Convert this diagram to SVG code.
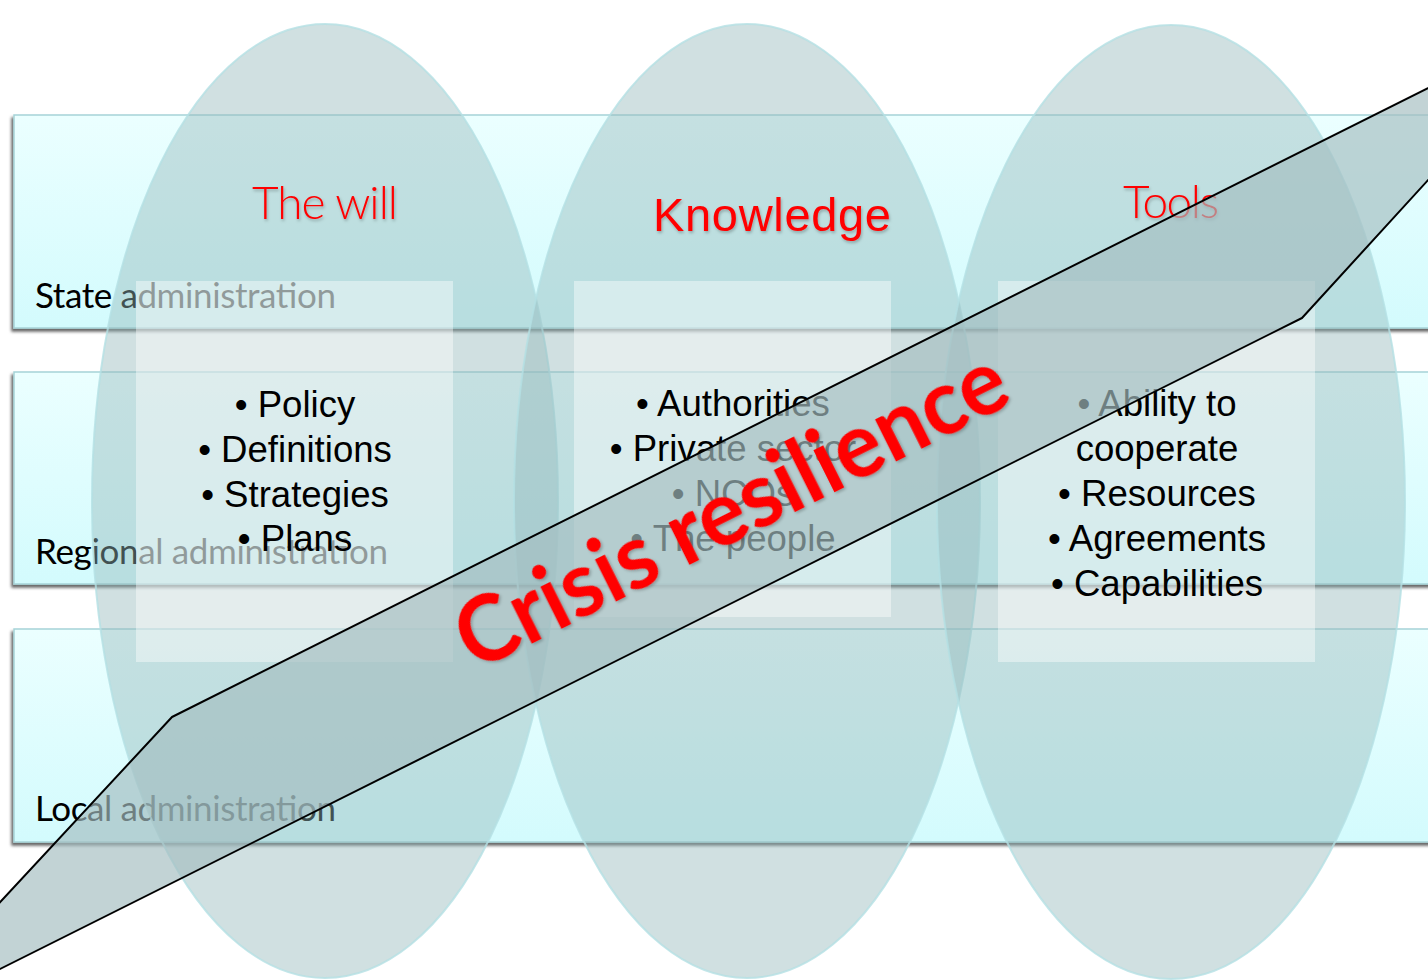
<svg xmlns="http://www.w3.org/2000/svg" width="1428" height="980" viewBox="0 0 1428 980">
<defs>
  <linearGradient id="bandGrad" x1="0" y1="0" x2="0" y2="1">
    <stop offset="0" stop-color="#ebffff"/>
    <stop offset="1" stop-color="#d3fbfd"/>
  </linearGradient>
  <filter id="bandShadow" x="-5%" y="-10%" width="110%" height="125%">
    <feDropShadow dx="-2" dy="3" stdDeviation="1.6" flood-color="#000" flood-opacity="0.6"/>
  </filter>
  <filter id="txtShadow" x="-10%" y="-20%" width="120%" height="150%">
    <feDropShadow dx="1" dy="2" stdDeviation="1.5" flood-color="#000" flood-opacity="0.25"/>
  </filter>
  <style>
    .band { fill: url(#bandGrad); stroke: #a6d3d7; stroke-width: 1.5; filter: url(#bandShadow); }
    .bandLabel { font-family: Lato, "Liberation Sans", sans-serif; font-size: 35px; fill: #000; }
    .ell { fill: rgb(148,184,186); fill-opacity: 0.44; stroke: #b4e0e4; stroke-width: 2; stroke-opacity: 0.8; }
    .box { fill: #ffffff; fill-opacity: 0.42; }
    .title { font-family: Lato, "Liberation Sans", sans-serif; font-weight: 300; font-size: 46px; fill: #ff0000; filter: url(#txtShadow); }
    .titleA { font-family: "Liberation Sans", Arial, sans-serif; font-size: 47px; fill: #ff0000; filter: url(#txtShadow); }
    .bullets { font-family: "Liberation Sans", Arial, sans-serif; font-size: 36.6px; fill: #000; text-anchor: middle; }
    .cband { fill: rgb(164,189,193); fill-opacity: 0.67; stroke: #000; stroke-width: 2; stroke-linejoin: round; }
    .crisis { font-family: Lato, "Open Sans", "Liberation Sans", sans-serif; font-weight: 700; font-size: 92px; fill: #ff0000; filter: url(#txtShadow); }
  </style>
</defs>
<rect x="0" y="0" width="1428" height="980" fill="#ffffff"/>

<g id="band-state">
  <rect class="band" x="14" y="115" width="1430" height="213"/>
  <text class="bandLabel" x="35" y="308" textLength="301">State administration</text>
</g>
<g id="band-regional">
  <rect class="band" x="14" y="372" width="1430" height="212"/>
  <text class="bandLabel" x="35" y="564" textLength="353">Regional administration</text>
</g>
<g id="band-local">
  <rect class="band" x="14" y="629" width="1430" height="213"/>
  <text class="bandLabel" x="35" y="821" textLength="301">Local administration</text>
</g>

<g id="pillar-will">
  <ellipse class="ell" cx="325" cy="501" rx="233" ry="477"/>
</g>
<g id="pillar-knowledge">
  <ellipse class="ell" cx="747" cy="501" rx="233" ry="477"/>
</g>
<g id="pillar-tools">
  <ellipse class="ell" cx="1171" cy="502" rx="234" ry="477"/>
</g>

<g id="box-will">
  <rect class="box" x="136" y="281" width="317" height="381"/>
</g>
<g id="box-knowledge">
  <rect class="box" x="574" y="281" width="317" height="336"/>
</g>
<g id="box-tools">
  <rect class="box" x="998" y="281" width="317" height="381"/>
</g>

<g id="title-will">
  <text class="title" x="252" y="219" textLength="146">The will</text>
</g>
<g id="title-knowledge">
  <text class="titleA" x="653" y="231" textLength="238">Knowledge</text>
</g>
<g id="title-tools">
  <text class="title" x="1123" y="218" textLength="96">Tools</text>
</g>

<g id="list-will" class="bullets">
  <text x="295" y="417">• Policy</text>
  <text x="295" y="462">• Definitions</text>
  <text x="295" y="507">• Strategies</text>
  <text x="295" y="551">• Plans</text>
</g>
<g id="list-knowledge" class="bullets">
  <text x="733" y="416">• Authorities</text>
  <text x="733" y="461">• Private sector</text>
  <text x="733" y="506">• NCOs</text>
  <text x="733" y="551">• The people</text>
</g>
<g id="list-tools" class="bullets">
  <text x="1157" y="416">• Ability to</text>
  <text x="1157" y="461">cooperate</text>
  <text x="1157" y="506">• Resources</text>
  <text x="1157" y="551">• Agreements</text>
  <text x="1157" y="596">• Capabilities</text>
</g>

<g id="crisis-resilience">
  <polygon class="cband" points="172,717 1440,82 1440,167 1302,318 -10,974 -10,913"/>
  <text class="crisis" transform="translate(745,537) rotate(-26.57)" x="0" y="0" text-anchor="middle" textLength="604" lengthAdjust="spacingAndGlyphs">Crisis resilience</text>
</g>
</svg>
